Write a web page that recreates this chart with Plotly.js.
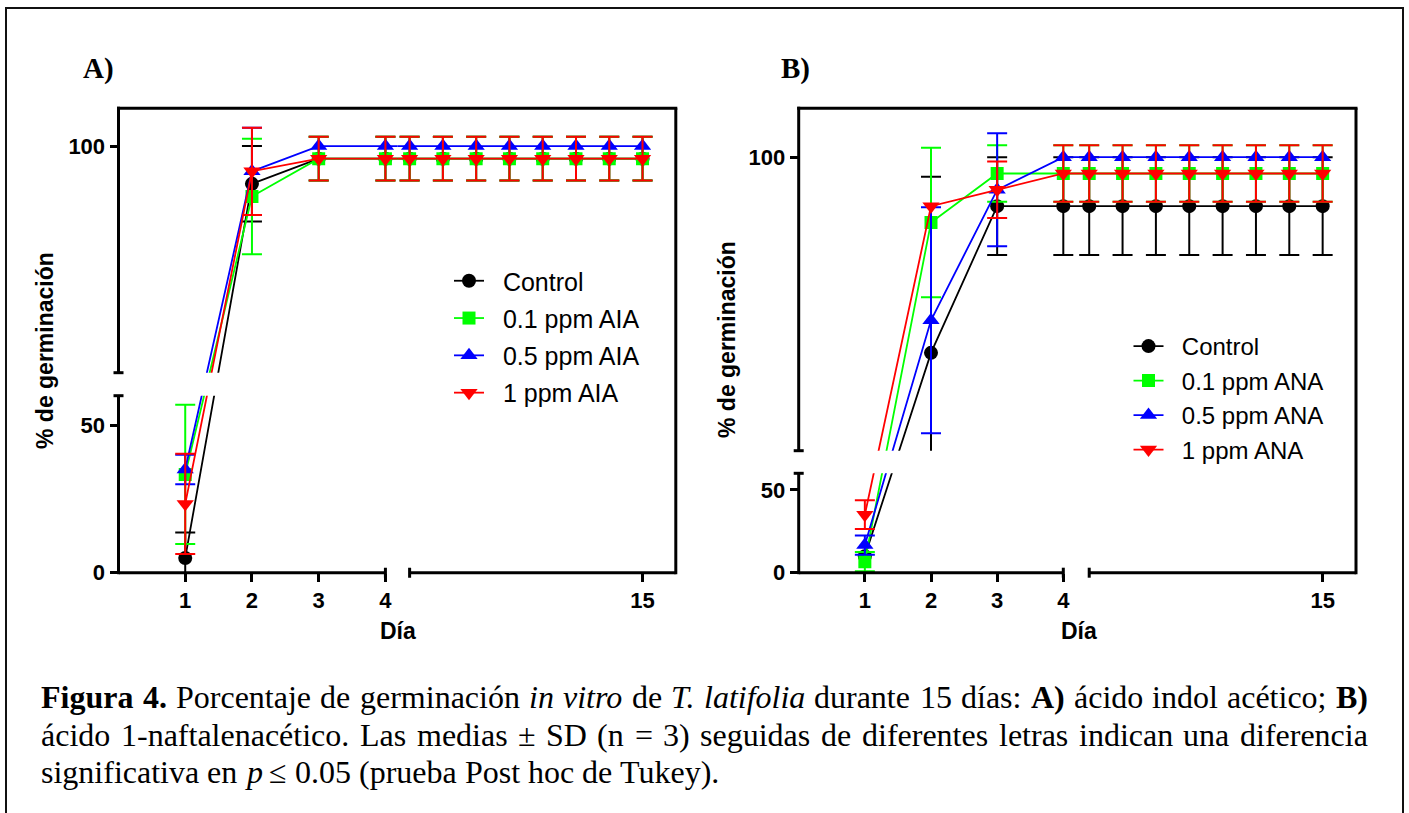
<!DOCTYPE html>
<html><head><meta charset="utf-8">
<script src="https://cdn.plot.ly/plotly-3.0.1.min.js"></script>
<style>html,body{margin:0;padding:0;background:#fff;} #chart{width:1409px;height:813px;}</style>
</head><body><div id="chart"></div>
<script>
// ---------------- DATA ----------------
const days = [1, 2, 3, 4, 8, 9, 10, 11, 12, 13, 14, 15];
const xTicksLeft = [1, 2, 3, 4];
const xTicksRight = [15];
const yTicksUpper = [100];
const yTicksLower = [0, 50];

const namesA = ['Control', '0.1 ppm AIA', '0.5 ppm AIA', '1 ppm AIA'];
const namesB = ['Control', '0.1 ppm ANA', '0.5 ppm ANA', '1 ppm ANA'];

// Panel A (AIA)
const A_control    = [5, 90, 96.67, 96.67, 96.67, 96.67, 96.67, 96.67, 96.67, 96.67, 96.67, 96.67];
const A_control_sd = [8.66, 10, 5.77, 5.77, 5.77, 5.77, 5.77, 5.77, 5.77, 5.77, 5.77, 5.77];
const A_01         = [33.33, 86.67, 96.67, 96.67, 96.67, 96.67, 96.67, 96.67, 96.67, 96.67, 96.67, 96.67];
const A_01_sd      = [23.6, 15.28, 5.77, 5.77, 5.77, 5.77, 5.77, 5.77, 5.77, 5.77, 5.77, 5.77];
const A_05         = [35, 93.33, 100, 100, 100, 100, 100, 100, 100, 100, 100, 100];
const A_05_sd      = [5, 11.55, 0, 0, 0, 0, 0, 0, 0, 0, 0, 0];
const A_1          = [23.33, 93.33, 96.67, 96.67, 96.67, 96.67, 96.67, 96.67, 96.67, 96.67, 96.67, 96.67];
const A_1_sd       = [17, 11.55, 5.77, 5.77, 5.77, 5.77, 5.77, 5.77, 5.77, 5.77, 5.77, 5.77];

// Panel B (ANA)
const B_control    = [10, 60, 90, 90, 90, 90, 90, 90, 90, 90, 90, 90];
const B_control_sd = [0, 36, 10, 10, 10, 10, 10, 10, 10, 10, 10, 10];
const B_01         = [6.67, 86.67, 96.67, 96.67, 96.67, 96.67, 96.67, 96.67, 96.67, 96.67, 96.67, 96.67];
const B_01_sd      = [5.77, 15.28, 5.77, 5.77, 5.77, 5.77, 5.77, 5.77, 5.77, 5.77, 5.77, 5.77];
const B_05         = [16.67, 66.67, 93.33, 100, 100, 100, 100, 100, 100, 100, 100, 100];
const B_05_sd      = [5.77, 23.09, 11.55, 0, 0, 0, 0, 0, 0, 0, 0, 0];
const B_1          = [35, 90, 93.33, 96.67, 96.67, 96.67, 96.67, 96.67, 96.67, 96.67, 96.67, 96.67];
const B_1_sd       = [8.66, 0, 5.77, 5.77, 5.77, 5.77, 5.77, 5.77, 5.77, 5.77, 5.77, 5.77];

// ---------------- STYLE / LAYOUT ----------------
const W = 1409, H = 813;
const px = v => v / W;
const py = v => 1 - v / H;

const upperRange = [40, 110];
const lowerRange = [0, 60];
const breakValue = 60;   // points below go to the lower segment, others to the upper one

const colors = ['#000000', '#00ff00', '#0000ff', '#ff0000'];
const symbols = ['circle', 'square', 'triangle-up', 'triangle-down'];
const msizes = [14, 13, 15, 15];

const SANS = 'Liberation Sans, Arial, sans-serif';
const SERIF = 'Liberation Serif, Times New Roman, serif';

const panels = [
  { key: 'A', names: namesA, series: [A_control, A_01, A_05, A_1], sds: [A_control_sd, A_01_sd, A_05_sd, A_1_sd],
    ax: { xL: 'x', xR: 'x2', yU: 'y', yL: 'y2' },
    g: { left: 118.5, gap: 397.5, right: 675.8, top: 108.3, upBot: 372.7, lowTop: 395.7, bottom: 572.7,
         xLR: [0, 4.181], xRR: [7.636, 16] },
    legend: 'legend' },
  { key: 'B', names: namesB, series: [B_control, B_01, B_05, B_1], sds: [B_control_sd, B_01_sd, B_05_sd, B_1_sd],
    ax: { xL: 'x3', xR: 'x4', yU: 'y3', yL: 'y4' },
    g: { left: 798.7, gap: 1076, right: 1356, top: 108.3, upBot: 450.7, lowTop: 473.3, bottom: 572.7,
         xLR: [0, 4.192], xRR: [7.604, 16] },
    legend: 'legend2' }
];

const traces = [];
const layout = {
  width: W, height: H, autosize: false,
  margin: { l: 0, r: 0, t: 0, b: 0, pad: 0 },
  paper_bgcolor: '#ffffff', plot_bgcolor: 'rgba(0,0,0,0)',
  showlegend: true,
  shapes: [], annotations: []
};

const tickFont = { family: SANS, size: 22, color: '#000', weight: 'bold' };
function axName(id) { return id.replace(/^x/, 'xaxis').replace(/^y/, 'yaxis'); }

panels.forEach(p => {
  const g = p.g, a = p.ax;
  const common = { showgrid: false, zeroline: false, showline: false, ticks: 'outside', ticklen: 8,
                   tickwidth: 3, tickcolor: '#000', tickfont: tickFont, fixedrange: true };
  layout[axName(a.xL)] = Object.assign({}, common, { domain: [px(g.left), px(g.gap)], range: g.xLR,
      anchor: a.yL, tickmode: 'array', tickvals: xTicksLeft, ticktext: xTicksLeft.map(String) });
  layout[axName(a.xR)] = Object.assign({}, common, { domain: [px(g.gap), px(g.right)], range: g.xRR,
      anchor: a.yL, tickmode: 'array', tickvals: xTicksRight, ticktext: xTicksRight.map(String) });
  layout[axName(a.yU)] = Object.assign({}, common, { domain: [py(g.upBot), py(g.top)], range: upperRange,
      anchor: a.xL, tickmode: 'array', tickvals: yTicksUpper, ticktext: yTicksUpper.map(String) });
  layout[axName(a.yL)] = Object.assign({}, common, { domain: [py(g.bottom), py(g.lowTop)], range: lowerRange,
      anchor: a.xL, tickmode: 'array', tickvals: yTicksLower, ticktext: yTicksLower.map(String) });

  // broken-axis geometry: a point is shown in its own segment; the connecting line
  // runs straight (on screen) to where the neighbouring point sits in the other segment.
  const sU = (g.upBot - g.top) / (upperRange[1] - upperRange[0]);
  const sL = (g.bottom - g.lowTop) / (lowerRange[1] - lowerRange[0]);
  const screenY = v => v >= breakValue ? g.top + (upperRange[1] - v) * sU : g.bottom - (v - lowerRange[0]) * sL;
  const inUpper = yy => upperRange[1] - (yy - g.top) / sU;
  const inLower = yy => lowerRange[0] + (g.bottom - yy) / sL;

  p.series.forEach((vals, i) => {
    const sdv = p.sds[i];
    [[a.xL, a.yU, true], [a.xR, a.yU, true], [a.xL, a.yL, false]].forEach((pair, k) => {
      const isUp = pair[2];
      const inSeg = v => isUp ? v >= breakValue : v < breakValue;
      const yv = vals.map(v => isUp ? inUpper(screenY(v)) : inLower(screenY(v)));
      traces.push({
        type: 'scatter', mode: 'lines+markers', x: days, y: yv,
        xaxis: pair[0], yaxis: pair[1],
        name: '\u00a0\u00a0' + p.names[i], showlegend: k === 0, legend: p.legend, legendgroup: p.key + i,
        line: { color: colors[i], width: 1.8 },
        marker: { color: colors[i], symbol: symbols[i], size: msizes[i], opacity: 1, line: { width: 0 } },
        error_y: { type: 'data', array: vals.map((v, j) => (inSeg(v) && sdv[j] > 0) ? sdv[j] : NaN),
                   visible: true, color: colors[i], thickness: 2, width: 10 },
        cliponaxis: true, hoverinfo: 'skip'
      });
    });
  });

  // axis lines (broken) and frame
  const L = { color: '#000', width: 3 };
  const S = layout.shapes;
  S.push({ type: 'line', xref: a.xL, yref: 'paper', x0: 0, x1: 4, y0: py(g.bottom), y1: py(g.bottom), line: L });
  S.push({ type: 'line', xref: a.xL, yref: 'paper', x0: 4, x1: 4, y0: py(g.bottom - 5), y1: py(g.bottom + 5), line: L });
  S.push({ type: 'line', xref: a.xR, yref: 'paper', x0: 8, x1: 16, y0: py(g.bottom), y1: py(g.bottom), line: L });
  S.push({ type: 'line', xref: a.xR, yref: 'paper', x0: 8, x1: 8, y0: py(g.bottom - 5), y1: py(g.bottom + 5), line: L });
  S.push({ type: 'line', xref: 'paper', yref: 'paper', x0: px(g.left), x1: px(g.left), y0: py(g.upBot), y1: py(g.top - 1.5), line: L });
  S.push({ type: 'line', xref: 'paper', yref: 'paper', x0: px(g.left - 5), x1: px(g.left + 5), y0: py(g.upBot), y1: py(g.upBot), line: L });
  S.push({ type: 'line', xref: 'paper', yref: 'paper', x0: px(g.left), x1: px(g.left), y0: py(g.lowTop), y1: py(g.bottom + 1.5), line: L });
  S.push({ type: 'line', xref: 'paper', yref: 'paper', x0: px(g.left - 5), x1: px(g.left + 5), y0: py(g.lowTop), y1: py(g.lowTop), line: L });
  S.push({ type: 'line', xref: 'paper', yref: 'paper', x0: px(g.left - 1.5), x1: px(g.right + 1.5), y0: py(g.top), y1: py(g.top), line: L });
  S.push({ type: 'line', xref: 'paper', yref: 'paper', x0: px(g.right), x1: px(g.right), y0: py(g.top), y1: py(g.bottom + 1.5), line: L });
});

// outer border
layout.shapes.push({ type: 'rect', xref: 'paper', yref: 'paper', x0: px(6), x1: px(1403), y0: py(8), y1: py(830),
  line: { color: '#111', width: 2 }, fillcolor: 'rgba(0,0,0,0)' });

// legends
const legendBase = { xanchor: 'left', yanchor: 'top', bgcolor: 'rgba(0,0,0,0)', borderwidth: 0,
  itemwidth: 30, traceorder: 'grouped', itemclick: false, itemdoubleclick: false };
layout.legend = Object.assign({}, legendBase, { x: px(449), y: py(258), tracegroupgap: 1.8,
  font: { family: SANS, size: 25, color: '#000' } });
layout.legend2 = Object.assign({}, legendBase, { x: px(1128.5), y: py(324), tracegroupgap: 0.3,
  font: { family: SANS, size: 24, color: '#000' } });

// panel labels, axis titles
const ann = layout.annotations;
const labFont = { family: SERIF, size: 29, color: '#000', weight: 'bold' };
ann.push({ text: 'A)', x: px(81), y: py(69), xref: 'paper', yref: 'paper', xanchor: 'left', yanchor: 'middle', showarrow: false, font: labFont });
ann.push({ text: 'B)', x: px(779), y: py(69), xref: 'paper', yref: 'paper', xanchor: 'left', yanchor: 'middle', showarrow: false, font: labFont });
const titleFont = { family: SANS, size: 23, color: '#000', weight: 'bold' };
ann.push({ text: '% de germinación', x: px(45), y: py(351), xref: 'paper', yref: 'paper', textangle: -90, xanchor: 'center', yanchor: 'middle', showarrow: false, font: titleFont });
ann.push({ text: '% de germinación', x: px(727), y: py(340), xref: 'paper', yref: 'paper', textangle: -90, xanchor: 'center', yanchor: 'middle', showarrow: false, font: titleFont });
ann.push({ text: 'Día', x: px(398), y: py(631), xref: 'paper', yref: 'paper', xanchor: 'center', yanchor: 'middle', showarrow: false, font: titleFont });
ann.push({ text: 'Día', x: px(1079), y: py(631), xref: 'paper', yref: 'paper', xanchor: 'center', yanchor: 'middle', showarrow: false, font: titleFont });

// caption (justified lines built word by word)
const captionLines = [
  '<b>Figura</b> <b>4.</b> Porcentaje de germinación <i>in</i> <i>vitro</i> de <i>T.</i> <i>latifolia</i> durante 15 días: <b>A)</b> ácido indol acético; <b>B)</b>',
  'ácido 1-naftalenacético. Las medias ± SD (n = 3) seguidas de diferentes letras indican una diferencia',
  'significativa en <i>p</i> ≤ 0.05 (prueba Post hoc de Tukey).'
];
const captionJustify = [true, true, false];
const capY = [697, 735, 772];
const capLeft = 40, capRight = 1367, capSize = 32;
const cv = document.createElement('canvas').getContext('2d');
function measure(word) {
  const b = /<b>/.test(word), it = /<i>/.test(word);
  const plain = word.replace(/<\/?[bi]>/g, '');
  cv.font = (it ? 'italic ' : '') + (b ? 'bold ' : '') + capSize + 'px "Liberation Serif"';
  return cv.measureText(plain).width;
}
cv.font = capSize + 'px "Liberation Serif"';
const spaceW = cv.measureText(' ').width;
captionLines.forEach((line, li) => {
  const words = line.split(' ');
  const widths = words.map(measure);
  const total = widths.reduce((s, v) => s + v, 0);
  let gapW = captionJustify[li] ? (capRight - capLeft - total) / (words.length - 1) : spaceW;
  if (gapW < spaceW * 0.5) gapW = spaceW * 0.5;
  let xpos = capLeft;
  words.forEach((w, wi) => {
    ann.push({ text: w, x: px(xpos - 1), y: py(capY[li]), xref: 'paper', yref: 'paper', xanchor: 'left', yanchor: 'middle',
      showarrow: false, font: { family: SERIF, size: capSize, color: '#000' } });
    xpos += widths[wi] + gapW;
  });
});

Plotly.newPlot('chart', traces, layout, { displayModeBar: false, staticPlot: true });
</script>
</body></html>
